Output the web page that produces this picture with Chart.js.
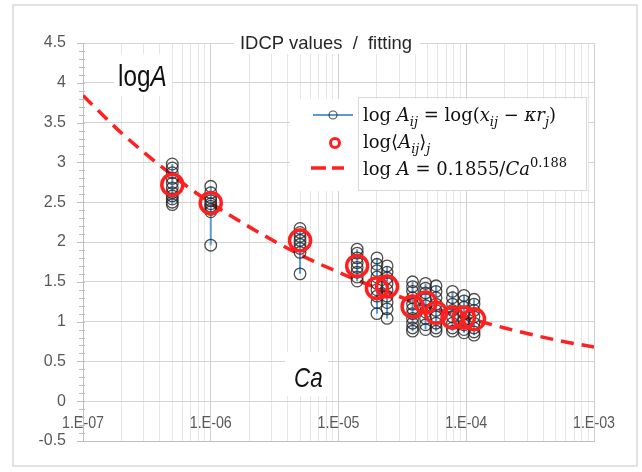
<!DOCTYPE html>
<html>
<head>
<meta charset="utf-8">
<script src="https://cdn.jsdelivr.net/npm/chart.js@4.4.1/dist/chart.umd.min.js"></script>
<style>
    html, body { margin: 0; padding: 0; background: #fff; }
    #wrap { width: 642px; height: 472px; }
</style>
</head>
<body>
<div id="wrap"><canvas id="idcpChart" width="642" height="472"></canvas></div>
<script>
// Ca of each measured group (x, log scale)
var caValues = [5e-7, 1e-6, 5e-6, 1.4e-5, 2e-5, 2.4e-5, 3.8e-5, 4.8e-5, 5.8e-5, 7.8e-5, 9.6e-5, 1.15e-4];

// log A_ij for every group
var logAij = [
    [2.98, 2.93, 2.87, 2.80, 2.74, 2.68, 2.62, 2.58, 2.54, 2.50, 2.47],
    [2.70, 2.62, 2.56, 2.52, 2.48, 2.45, 2.41, 2.38, 1.96],
    [2.17, 2.12, 2.07, 2.02, 1.97, 1.92, 1.87, 1.60],
    [1.91, 1.86, 1.80, 1.74, 1.68, 1.62, 1.56, 1.51],
    [1.80, 1.72, 1.64, 1.56, 1.48, 1.40, 1.32, 1.24, 1.10],
    [1.70, 1.62, 1.55, 1.48, 1.40, 1.32, 1.24, 1.16, 1.04],
    [1.50, 1.44, 1.38, 1.30, 1.22, 1.16, 1.10, 1.04, 0.98, 0.92, 0.88],
    [1.48, 1.42, 1.36, 1.28, 1.20, 1.12, 1.04, 0.96, 0.90],
    [1.45, 1.38, 1.30, 1.22, 1.14, 1.06, 0.98, 0.92, 0.88],
    [1.38, 1.30, 1.22, 1.14, 1.06, 0.98, 0.92, 0.88],
    [1.33, 1.26, 1.18, 1.10, 1.02, 0.96, 0.90, 0.86],
    [1.28, 1.22, 1.14, 1.06, 0.98, 0.92, 0.87, 0.83]
];

// group means log<A_ij>_j
var logAmean = [2.72, 2.49, 2.02, 1.70, 1.42, 1.44, 1.19, 1.24, 1.11, 1.05, 1.05, 1.03];

// fitted curve, read at a few Ca values
var fitCa = [1e-7, 2e-7, 5e-7, 1e-6, 2e-6, 5e-6, 1e-5, 2e-5, 5e-5, 1e-4, 2e-4, 5e-4, 1e-3];
var fitLogA = [3.84, 3.37, 2.84, 2.49, 2.19, 1.84, 1.62, 1.42, 1.19, 1.05, 0.92, 0.77, 0.68];

// axis ticks
var xTickValues = [1e-7, 1e-6, 1e-5, 1e-4, 1e-3];
var xTickLabels = ['1.E-07', '1.E-06', '1.E-05', '1.E-04', '1.E-03'];
var yTickValues = [-0.5, 0, 0.5, 1, 1.5, 2, 2.5, 3, 3.5, 4, 4.5];
var yTickLabels = ['-0.5', '0', '0.5', '1', '1.5', '2', '2.5', '3', '3.5', '4', '4.5'];

var chartTitle = 'IDCP values  /  fitting';

var sansFont = "'Liberation Sans', Arial, sans-serif";
var mathFont = "'DejaVu Serif', 'Liberation Serif', serif";
var labelColor = '#595959';

function buildDatasets() {
    var sets = [];
    sets.push({
        label: 'mean',
        data: caValues.map(function (c, i) { return { x: c, y: logAmean[i] }; }),
        showLine: false,
        pointRadius: 10.5,
        pointBorderWidth: 3.5,
        pointBorderColor: '#ff1f1f',
        pointBackgroundColor: 'rgba(0,0,0,0)',
        order: 0
    });
    logAij.forEach(function (group, i) {
        sets.push({
            label: 'group' + i,
            data: group.map(function (v) { return { x: caValues[i], y: v }; }),
            showLine: true,
            borderColor: '#5b9bd5',
            borderWidth: 2,
            pointRadius: 5.8,
            pointBorderWidth: 1.3,
            pointBorderColor: 'rgba(35,35,35,0.8)',
            pointBackgroundColor: 'rgba(0,0,0,0)',
            order: 1
        });
    });
    sets.push({
        label: 'fit',
        data: fitCa.map(function (c, i) { return { x: c, y: fitLogA[i] }; }),
        showLine: true,
        borderColor: '#ff2020',
        borderWidth: 3.5,
        borderDash: [13, 8],
        cubicInterpolationMode: 'monotone',
        pointRadius: 0,
        order: 2
    });
    return sets;
}

// text squeezed sideways, to look like the narrow font of the original
function narrowText(ctx, text, x, y, sx) {
    ctx.save();
    ctx.translate(x, y);
    ctx.scale(sx, 1);
    ctx.fillText(text, 0, 0);
    ctx.restore();
    return ctx.measureText(text).width * sx;
}

// pieces: [text, italic, kind] kind: 0 normal, 1 sub, 2 sup
function drawRich(ctx, x, y, pieces, size) {
    var cx = x;
    pieces.forEach(function (p) {
        var s = p[2] ? Math.round(size * 0.7) : size;
        var dy = p[2] === 1 ? size * 0.28 : (p[2] === 2 ? -size * 0.42 : 0);
        ctx.font = (p[1] ? 'italic ' : '') + s + 'px ' + mathFont;
        ctx.fillText(p[0], cx, y + dy);
        cx += ctx.measureText(p[0]).width;
    });
    return cx;
}

var decorPlugin = {
    id: 'decor',
    beforeDraw: function (chart) {
        var ctx = chart.ctx;
        ctx.save();
        ctx.fillStyle = '#fff';
        ctx.fillRect(0, 0, chart.width, chart.height);
        ctx.strokeStyle = '#d9d9d9';
        ctx.lineWidth = 1.5;
        ctx.strokeRect(13, 5, 624, 461);
        ctx.restore();
    },
    afterDraw: function (chart) {
        var ctx = chart.ctx;
        var xs = chart.scales.x, ys = chart.scales.y;
        ctx.save();

        // y axis tick marks
        ctx.strokeStyle = '#bfbfbf';
        ctx.lineWidth = 1;
        for (var k = -5; k <= 45; k++) {
            var py = Math.round(ys.getPixelForValue(k / 10)) + 0.5;
            var major = (k % 5 === 0);
            ctx.beginPath();
            ctx.moveTo(xs.left - (major ? 6 : 4), py);
            ctx.lineTo(xs.left + 2, py);
            ctx.stroke();
        }

        // x tick labels, inside the plot just above the bottom line
        ctx.fillStyle = labelColor;
        ctx.font = '17px ' + sansFont;
        ctx.textAlign = 'center';
        ctx.textBaseline = 'middle';
        xTickValues.forEach(function (v, i) {
            narrowText(ctx, xTickLabels[i], xs.getPixelForValue(v), 423, 0.84);
        });

        // title
        ctx.fillStyle = '#fff';
        ctx.fillRect(234, 32, 186, 22);
        ctx.fillStyle = '#262626';
        ctx.font = '19px ' + sansFont;
        narrowText(ctx, chartTitle, 326, 44, 0.97);

        // logA label
        ctx.fillStyle = '#fff';
        ctx.fillRect(114, 54, 58, 42);
        ctx.fillStyle = '#111';
        ctx.textAlign = 'left';
        ctx.textBaseline = 'alphabetic';
        ctx.font = '29px ' + sansFont;
        var w = narrowText(ctx, 'log', 118, 86, 0.84);
        ctx.font = 'italic 29px ' + sansFont;
        narrowText(ctx, 'A', 118 + w, 86, 0.84);

        // Ca label
        ctx.fillStyle = '#fff';
        ctx.fillRect(285, 352, 43, 44);
        ctx.fillStyle = '#111';
        ctx.font = 'italic 28px ' + sansFont;
        narrowText(ctx, 'Ca', 294, 387, 0.8);

        // legend
        ctx.fillStyle = '#fff';
        ctx.fillRect(290, 99, 298, 92);
        ctx.strokeStyle = '#d9d9d9';
        ctx.lineWidth = 1;
        ctx.strokeRect(358.5, 97.5, 228, 93);

        ctx.strokeStyle = '#5b9bd5';
        ctx.lineWidth = 2;
        ctx.beginPath(); ctx.moveTo(313, 115); ctx.lineTo(353, 115); ctx.stroke();
        ctx.strokeStyle = 'rgba(45,45,45,0.8)';
        ctx.lineWidth = 1.2;
        ctx.beginPath(); ctx.arc(333, 115, 4, 0, Math.PI * 2); ctx.stroke();

        ctx.strokeStyle = '#ff1f1f';
        ctx.lineWidth = 3;
        ctx.beginPath(); ctx.arc(335, 143, 4.5, 0, Math.PI * 2); ctx.stroke();

        ctx.lineWidth = 3.5;
        ctx.beginPath(); ctx.moveTo(311, 168); ctx.lineTo(326, 168); ctx.stroke();
        ctx.beginPath(); ctx.moveTo(332, 168); ctx.lineTo(344, 168); ctx.stroke();

        ctx.fillStyle = '#111';
        var fs = 18;
        drawRich(ctx, 363, 121, [['log ', 0, 0], ['A', 1, 0], ['ij', 1, 1], [' = log(', 0, 0], ['x', 1, 0], ['ij', 1, 1],
            [' \u2212 ', 0, 0], ['\u03BAr', 1, 0], ['j', 1, 1], [')', 0, 0]], fs);
        drawRich(ctx, 363, 148, [['log\u27E8', 0, 0], ['A', 1, 0], ['ij', 1, 1], ['\u27E9', 0, 0], ['j', 1, 1]], fs);
        drawRich(ctx, 363, 175, [['log ', 0, 0], ['A', 1, 0], [' = 0.1855/', 0, 0], ['Ca', 1, 0], ['0.188', 0, 2]], fs);

        ctx.restore();
    }
};

var ctx = document.getElementById('idcpChart').getContext('2d');
var idcpChart = new Chart(ctx, {
    type: 'scatter',
    data: { datasets: buildDatasets() },
    options: {
        responsive: false,
        animation: false,
        devicePixelRatio: 1,
        layout: { padding: { left: 0, right: 48, top: 43, bottom: 31 } },
        plugins: {
            legend: { display: false },
            tooltip: { enabled: false }
        },
        scales: {
            x: {
                type: 'logarithmic',
                min: xTickValues[0],
                max: xTickValues[xTickValues.length - 1],
                afterBuildTicks: function (scale) {
                    var ticks = [];
                    xTickValues.forEach(function (d, i) {
                        ticks.push({ value: d, major: true });
                        if (i < xTickValues.length - 1) {
                            for (var m = 2; m <= 9; m++) ticks.push({ value: d * m, major: false });
                        }
                    });
                    scale.ticks = ticks;
                },
                afterFit: function (scale) { scale.height = 0; },
                ticks: { display: false },
                grid: {
                    drawTicks: false,
                    color: function (c) { return c.tick && c.tick.major ? '#cfcfcf' : '#e6e6e6'; }
                },
                border: { color: '#bfbfbf' }
            },
            y: {
                min: -0.5,
                max: 4.5,
                afterBuildTicks: function (scale) {
                    scale.ticks = yTickValues.map(function (v) { return { value: v }; });
                },
                afterFit: function (scale) { scale.width = 83; },
                ticks: {
                    padding: 17,
                    color: labelColor,
                    font: { family: sansFont, size: 16 },
                    callback: function (v) {
                        var i = yTickValues.indexOf(v);
                        return i >= 0 ? yTickLabels[i] : '';
                    }
                },
                grid: { drawTicks: false, color: '#d4d4d4' },
                border: { color: '#bfbfbf' }
            }
        }
    },
    plugins: [decorPlugin]
});
</script>
</body>
</html>
